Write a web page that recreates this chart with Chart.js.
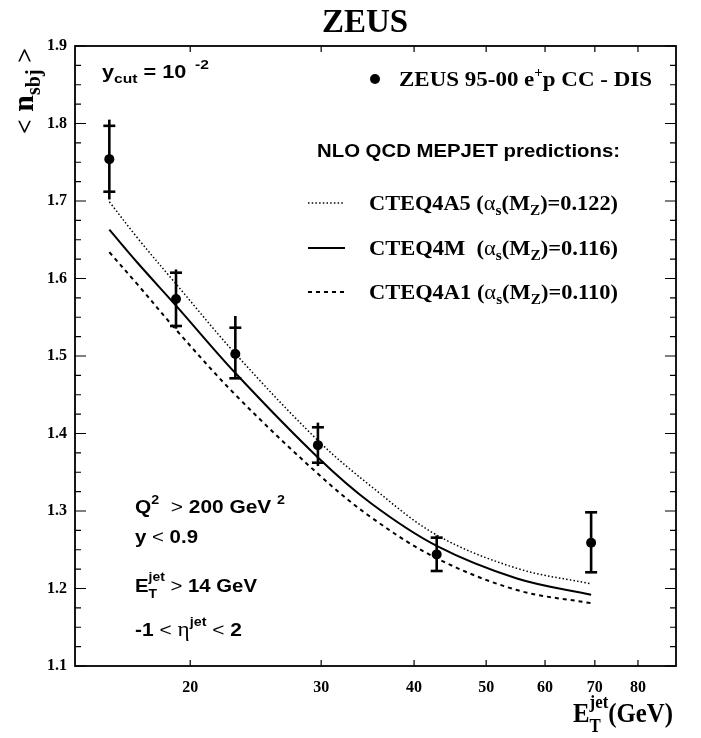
<!DOCTYPE html>
<html><head><meta charset="utf-8">
<script src="https://cdn.jsdelivr.net/npm/chart.js@4.4.1/dist/chart.umd.min.js"></script>
<style>html,body{margin:0;padding:0;background:#fff}#wrap{width:701px;height:738px;position:relative}</style>
</head><body><div id="wrap"><canvas id="c" width="701" height="738"></canvas></div>
<script>
// ---- data ----
const etJet  = [15.57, 19.14, 23.0, 29.7, 42.9, 69.2];
const nSbj   = [1.754, 1.5735, 1.5026, 1.385, 1.244, 1.259];
const statLo = [1.712, 1.5387, 1.4712, 1.3623, 1.2226, 1.2209];
const statHi = [1.797, 1.6075, 1.5365, 1.408, 1.2656, 1.2983];
const totLo  = [1.702, 1.5352, 1.4712, 1.358, 1.2226, 1.2209];
const totHi  = [1.805, 1.6117, 1.5516, 1.414, 1.2685, 1.2983];

const curveEt = [15.57, 17, 19.14, 23, 29.7, 35, 42.9, 55, 69.2];
const cteq4a5 = [1.699, 1.652, 1.593, 1.503, 1.391, 1.332, 1.269, 1.226, 1.206];
const cteq4m  = [1.663, 1.620, 1.565, 1.478, 1.369, 1.310, 1.255, 1.213, 1.192];
const cteq4a1 = [1.634, 1.592, 1.534, 1.450, 1.348, 1.292, 1.239, 1.198, 1.181];

const xTicks = [20, 30, 40, 50, 60, 70, 80];
const yTicks = [1.1, 1.2, 1.3, 1.4, 1.5, 1.6, 1.7, 1.8, 1.9];
const yMinorStep = 0.025;

const SERIF = "'Liberation Serif', 'DejaVu Serif', serif";
const SANS = "'Liberation Sans', Arial, sans-serif";

// draws a run of text pieces; if fitW is given, stretches horizontally to that width
function rich(ctx, x, y, parts, align, fitW) {
  let w = 0;
  parts.forEach(p => { ctx.font = p.font; p.w = ctx.measureText(p.t).width; w += (p.adv !== undefined ? p.adv : p.w); });
  const sx = fitW ? fitW / w : 1;
  const tw = w * sx;
  let x0 = align === 'center' ? x - tw / 2 : (align === 'right' ? x - tw : x);
  ctx.save();
  ctx.translate(x0, y);
  ctx.scale(sx, 1);
  ctx.textAlign = 'left'; ctx.textBaseline = 'alphabetic';
  let cx = 0;
  parts.forEach(p => {
    ctx.font = p.font;
    ctx.fillText(p.t, cx, (p.dy || 0));
    cx += (p.adv !== undefined ? p.adv : p.w);
  });
  ctx.restore();
  return tw;
}
const sf = (s, b = true) => (b ? 'bold ' : '') + s + 'px ' + SERIF;
const hf = (s, b = true) => (b ? 'bold ' : '') + s + 'px ' + SANS;

const errorBars = {
  id: 'errorBars',
  beforeDatasetsDraw(chart) {
    const { ctx, scales: { x, y } } = chart;
    ctx.save();
    ctx.strokeStyle = '#000';
    ctx.lineWidth = 2.6;
    etJet.forEach((e, i) => {
      const px = x.getPixelForValue(e);
      ctx.beginPath();
      ctx.moveTo(px, y.getPixelForValue(totLo[i]));
      ctx.lineTo(px, y.getPixelForValue(totHi[i]));
      ctx.stroke();
      [statLo[i], statHi[i]].forEach(v => {
        const py = y.getPixelForValue(v);
        ctx.beginPath(); ctx.moveTo(px - 6, py); ctx.lineTo(px + 6, py); ctx.stroke();
      });
    });
    ctx.restore();
  }
};

const decor = {
  id: 'decor',
  afterDraw(chart) {
    const { ctx, chartArea: a, scales: { x, y } } = chart;
    ctx.save();
    ctx.strokeStyle = '#000'; ctx.fillStyle = '#000';
    // frame
    ctx.lineWidth = 1.8;
    ctx.strokeRect(a.left, a.top, a.right - a.left, a.bottom - a.top);
    // inward ticks
    ctx.lineWidth = 1.2;
    ctx.beginPath();
    xTicks.forEach(v => {
      const px = x.getPixelForValue(v);
      ctx.moveTo(px, a.bottom); ctx.lineTo(px, a.bottom - 6);
      ctx.moveTo(px, a.top); ctx.lineTo(px, a.top + 6);
    });
    const n = Math.round((y.max - y.min) / yMinorStep);
    for (let k = 0; k <= n; k++) {
      const v = y.min + k * yMinorStep;
      const L = (k % 4 === 0) ? 11 : 6;
      const py = y.getPixelForValue(v);
      ctx.moveTo(a.left, py); ctx.lineTo(a.left + L, py);
      ctx.moveTo(a.right, py); ctx.lineTo(a.right - L, py);
    }
    ctx.stroke();

    // title
    ctx.textAlign = 'center'; ctx.textBaseline = 'alphabetic';
    ctx.font = sf(33);
    ctx.fillText('ZEUS', 365, 32);

    // y_cut
    rich(ctx, 102, 78, [
      { t: 'y', font: hf(18) },
      { t: 'cut', font: hf(13), dy: 5 },
      { t: ' = 10', font: hf(18) },
      { t: '  -2', font: hf(13), dy: -9 }
    ], 'left', 107);

    // ZEUS data legend
    ctx.beginPath(); ctx.arc(375, 79, 5, 0, Math.PI * 2); ctx.fill();
    rich(ctx, 399, 86, [
      { t: 'ZEUS 95-00 e', font: sf(21.5) },
      { t: '+', font: sf(14), dy: -9 },
      { t: 'p CC - DIS', font: sf(21.5) }
    ], 'left', 253);

    rich(ctx, 317, 157, [{ t: 'NLO QCD MEPJET predictions:', font: hf(17.5) }], 'left', 303);

    // curve legend
    const rows = [
      { y: 203, dash: [1.5, 2.2], w: 1.5, name: 'CTEQ4A5 (', val: ')=0.122)' },
      { y: 248, dash: [], w: 2, name: 'CTEQ4M  (', val: ')=0.116)' },
      { y: 292, dash: [4, 4], w: 2, name: 'CTEQ4A1 (', val: ')=0.110)' }
    ];
    rows.forEach(r => {
      ctx.save();
      ctx.lineWidth = r.w; ctx.setLineDash(r.dash);
      ctx.beginPath(); ctx.moveTo(308, r.y); ctx.lineTo(345, r.y); ctx.stroke();
      ctx.restore();
      rich(ctx, 369, r.y + 7, [
        { t: r.name, font: sf(20.5) },
        { t: 'α', font: sf(20.5, false) },
        { t: 's', font: sf(14), dy: 5 },
        { t: '(M', font: sf(20.5) },
        { t: 'Z', font: sf(14), dy: 5 },
        { t: r.val, font: sf(20.5) }
      ], 'left', 249);
    });

    // cuts
    rich(ctx, 135, 513, [
      { t: 'Q', font: hf(19) },
      { t: '2', font: hf(13), dy: -9 },
      { t: '  > ', font: hf(19, false) },
      { t: '200 GeV ', font: hf(19) },
      { t: '2', font: hf(13), dy: -9 }
    ], 'left', 150);
    rich(ctx, 135, 543, [
      { t: 'y ', font: hf(19) },
      { t: '<', font: hf(19, false) },
      { t: ' 0.9', font: hf(19) }
    ], 'left', 63);
    ctx.font = hf(13);
    const jw = ctx.measureText('jet').width;
    rich(ctx, 135, 592, [
      { t: 'E', font: hf(19) },
      { t: 'jet', font: hf(13), dy: -11, adv: 0 },
      { t: 'T', font: hf(13), dy: 6, adv: jw },
      { t: ' > ', font: hf(19, false) },
      { t: '14 GeV', font: hf(19) }
    ], 'left', 122);
    rich(ctx, 135, 636, [
      { t: '-1 ', font: hf(19) },
      { t: '< ', font: hf(19, false) },
      { t: 'η', font: sf(21, false) },
      { t: 'jet', font: hf(13), dy: -10 },
      { t: ' < ', font: hf(19, false) },
      { t: '2', font: hf(19) }
    ], 'left', 107);

    // x title
    ctx.font = sf(19);
    const jw2 = ctx.measureText('jet').width;
    rich(ctx, 673, 722, [
      { t: 'E', font: sf(28) },
      { t: 'jet', font: sf(19), dy: -14, adv: 0 },
      { t: 'T', font: sf(19), dy: 10, adv: jw2 },
      { t: '(GeV)', font: sf(28) }
    ], 'right', 100);

    // y title (rotated)
    ctx.save();
    ctx.translate(33, 91);
    ctx.rotate(-Math.PI / 2);
    rich(ctx, 0, 0, [
      { t: '<', font: sf(26) },
      { t: ' n', font: sf(30) },
      { t: 'sbj', font: sf(20), dy: 7 },
      { t: ' >', font: sf(26) }
    ], 'center');
    ctx.restore();

    ctx.restore();
  }
};

const pts = (xs, ys) => xs.map((v, i) => ({ x: v, y: ys[i] }));

new Chart(document.getElementById('c'), {
  type: 'line',
  data: {
    datasets: [
      { type: 'scatter', label: 'ZEUS 95-00', data: pts(etJet, nSbj), pointRadius: 5, pointBackgroundColor: '#000', pointBorderColor: '#000', pointBorderWidth: 0, showLine: false },
      { label: 'CTEQ4A5', data: pts(curveEt, cteq4a5), borderColor: '#000', borderWidth: 1.5, borderDash: [1.5, 2.2], pointRadius: 0, tension: 0.35, fill: false },
      { label: 'CTEQ4M', data: pts(curveEt, cteq4m), borderColor: '#000', borderWidth: 2, pointRadius: 0, tension: 0.35, fill: false },
      { label: 'CTEQ4A1', data: pts(curveEt, cteq4a1), borderColor: '#000', borderWidth: 2, borderDash: [4, 4], pointRadius: 0, tension: 0.35, fill: false }
    ]
  },
  options: {
    responsive: false,
    animation: false,
    events: [],
    layout: { padding: { left: 0, right: 25, top: 46, bottom: 0 } },
    plugins: { legend: { display: false }, tooltip: { enabled: false }, title: { display: false } },
    scales: {
      x: {
        type: 'logarithmic', min: 14, max: 90,
        afterBuildTicks: s => { s.ticks = xTicks.map(v => ({ value: v })); },
        afterFit: s => { s.height = 72; },
        grid: { display: false, drawTicks: false }, border: { display: false },
        ticks: { autoSkip: false, maxRotation: 0, minRotation: 0, padding: 12, color: '#000',
          font: { family: SERIF, weight: 'bold', size: 16 }, callback: v => String(v) }
      },
      y: {
        type: 'linear', min: 1.1, max: 1.9,
        afterBuildTicks: s => { s.ticks = yTicks.map(v => ({ value: v })); },
        afterFit: s => { s.width = 75; },
        grid: { display: false, drawTicks: false }, border: { display: false },
        ticks: { padding: 8, color: '#000', font: { family: SERIF, weight: 'bold', size: 16 },
          callback: v => Number(v).toFixed(1) }
      }
    }
  },
  plugins: [errorBars, decor]
});
</script></body></html>
